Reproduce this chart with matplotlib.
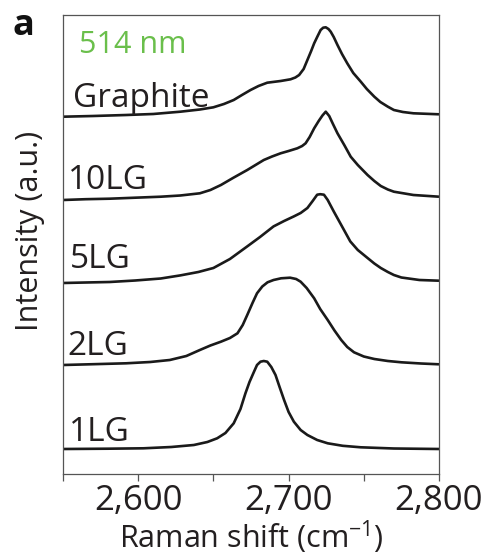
import matplotlib
matplotlib.use("Agg")
import matplotlib.pyplot as plt
from matplotlib.ticker import FixedLocator, FuncFormatter

# ---------------- data ----------------
labels = ["Graphite", "10LG", "5LG", "2LG", "1LG"]
offsets = [357, 274, 191, 109, 25]

graphite_x = [2550, 2570, 2592, 2610, 2628, 2641, 2650, 2657, 2663.5, 2669, 2674.7, 2680,
              2685.8, 2694.7, 2701.3, 2704.5, 2707, 2710, 2712.5, 2715, 2717, 2719, 2721.3,
              2723, 2724.7, 2726.5, 2728, 2730, 2732.5, 2735.5, 2739, 2743, 2748, 2752,
              2757, 2761, 2766, 2770, 2776, 2783, 2800]
graphite_y = [0.3, 1, 2, 3, 5.3, 7.5, 9.7, 13, 17, 22, 27, 31,
              34.3, 36, 37.7, 39.5, 42, 48, 57, 66, 73.7, 80, 87,
              89.3, 89.7, 88, 85.3, 80, 72, 63, 53.7, 44, 35.3, 28,
              20.3, 15, 10.3, 7, 5, 3.7, 2.7]

lg10_x = [2550, 2565, 2581, 2598, 2615, 2628, 2641, 2648, 2655, 2663, 2672.5, 2678, 2683.5,
          2689, 2694.7, 2700, 2705.8, 2709, 2711.3, 2714, 2717, 2720, 2722.5, 2724.7, 2727,
          2729.5, 2732.5, 2737, 2741.3, 2746, 2752.5, 2757, 2761.3, 2766, 2770, 2783, 2800]
lg10_y = [0, 0.8, 1.3, 2.3, 3.3, 4.5, 6.7, 10, 15, 22, 30, 35, 40,
          43.5, 46.7, 49, 51.7, 54, 56.7, 63, 71.7, 79, 84.5, 88.3, 84,
          76, 66.7, 55, 43.3, 35, 25, 19, 14, 10.5, 8.3, 5, 3.3]

lg5_x = [2550, 2565, 2581, 2598, 2615, 2628, 2640, 2650, 2661, 2672.5, 2681, 2690, 2697,
         2703.5, 2708, 2712.5, 2716, 2719, 2721, 2723.5, 2726, 2730, 2735, 2741, 2746,
         2752.5, 2757, 2761.3, 2766, 2770, 2775, 2787, 2800]
lg5_y = [0, 0.5, 1, 2.5, 4.5, 7.6, 11, 15, 24, 36.6, 46, 56.6, 62,
         66.6, 70, 75, 82, 88.3, 88.8, 88.3, 83, 71.6, 58, 41.6, 33,
         25, 19.5, 15, 11, 8, 5.5, 3, 2.3]

lg2_x = [2550, 2570, 2592, 2608, 2621, 2632, 2641, 2648, 2655, 2661, 2666, 2669.5, 2672.5,
         2676, 2679, 2682.5, 2686, 2690, 2695, 2701, 2705, 2708, 2712, 2717, 2721, 2726,
         2730.5, 2735, 2739, 2743.5, 2750, 2757, 2766, 2775, 2788, 2800]
lg2_y = [0, 0.8, 1.7, 3, 5, 9, 15, 19.5, 23.3, 27, 31.7, 40, 50,
         62, 71.7, 78.5, 82.7, 85, 86.7, 87.3, 86, 83.3, 77, 66.7, 56, 45,
         34.5, 25, 18, 12.7, 8.5, 6, 4, 2.7, 1.5, 0.7]

lg1_x = [2550, 2580, 2603.5, 2622, 2637, 2646, 2652.5, 2658, 2663.5, 2668, 2671.3, 2674,
         2677, 2679, 2681.3, 2683.5, 2685.8, 2688.5, 2691.3, 2694, 2697, 2700, 2703.5,
         2708, 2712.5, 2719, 2726, 2736, 2748, 2770, 2800]
lg1_y = [0, 0.3, 0.7, 2, 4, 7, 10.7, 16, 25.7, 40, 55.7, 67,
         77.3, 84, 87.3, 88, 87.3, 82, 74, 62, 49, 37, 27.3,
         19, 14, 9, 5.7, 3.2, 1.7, 0.5, 0]

series_x = [graphite_x, lg10_x, lg5_x, lg2_x, lg1_x]
series_y = [graphite_y, lg10_y, lg5_y, lg2_y, lg1_y]

major_ticks = [2600, 2700, 2800]
minor_ticks = [2550, 2650, 2750]

# ---------------- style ----------------
plt.rcParams["font.family"] = ["Open Sans", "DejaVu Sans"]
plt.rcParams["mathtext.fontset"] = "custom"
plt.rcParams["mathtext.rm"] = "Open Sans"
text_color = "#231f20"
line_color = "#1a1a1a"

W, H = 487, 557
fig = plt.figure(figsize=(W / 100, H / 100), dpi=100)
ax = fig.add_axes([63 / W, 1 - 474 / H, 376 / W, 459 / H])

for xs, ys, off in zip(series_x, series_y, offsets):
    ax.plot(xs, [v + off for v in ys], color=line_color, lw=1.9,
            solid_joinstyle="round", solid_capstyle="butt")

ax.set_xlim(2550, 2800)
ax.set_ylim(0, 459)
ax.set_yticks([])

ax.xaxis.set_major_locator(FixedLocator(major_ticks))
ax.xaxis.set_minor_locator(FixedLocator(minor_ticks))
ax.xaxis.set_major_formatter(FuncFormatter(lambda v, p: f"{int(v):,}"))
ax.tick_params(axis="x", which="both", direction="out", length=5, width=0.9,
               color="#555555", labelsize=25, labelcolor=text_color, pad=2)

for sp in ax.spines.values():
    sp.set_color("#555555")
    sp.set_linewidth(0.9)

ax.set_xlabel("Raman shift (cm$^{\\mathrm{-1}}$)", fontsize=22, color=text_color, labelpad=0.5)
fig.text(30 / W, 1 - 230.5 / H, "Intensity (a.u.)", rotation=90, fontsize=22,
         color=text_color, ha="center", va="center")

label_pos = [(0.026, 0.800), (0.012, 0.620), (0.018, 0.448), (0.012, 0.259), (0.016, 0.0725)]
for lab, (lx, ly) in zip(labels, label_pos):
    ax.text(lx, ly, lab, transform=ax.transAxes, fontsize=24, color=text_color,
            ha="left", va="baseline")

ax.text(0.043, 0.9166, "514 nm", transform=ax.transAxes, fontsize=22, color="#6abf4b",
        ha="left", va="baseline")

fig.text(12 / W, 1 - 35 / H, "a", fontsize=26, fontweight="bold", color="#111111",
         ha="left", va="baseline")

fig.savefig("out.png", dpi=100)
